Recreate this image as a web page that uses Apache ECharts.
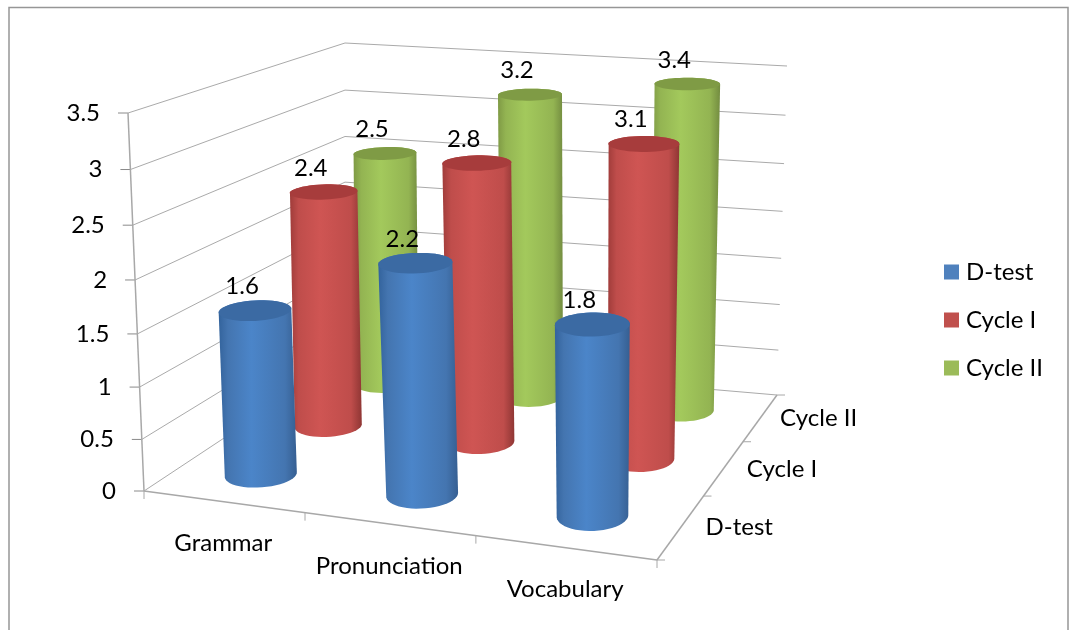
<!DOCTYPE html>
<html><head><meta charset="utf-8">
<style>html,body{margin:0;padding:0;background:#fff}#c{width:1071px;height:630px}</style>
<script src="https://cdn.jsdelivr.net/npm/echarts@6/dist/echarts.min.js"></script>
</head><body><div id="c"></div>
<script>
const categories = ['Grammar','Pronunciation','Vocabulary'];
const seriesNames = ['D-test','Cycle I','Cycle II'];
const dTest = [1.6,2.2,1.8];
const cycleI = [2.4,2.8,3.1];
const cycleII = [2.5,3.2,3.4];
const valueTicks = [0,0.5,1,1.5,2,2.5,3,3.5];
const FONT = 'Lato';
const FS = 24;
const LINE = '#aaaaaa';

// picture-frame of the 3D box (floor and ceiling corners)
const floorQ = [[144,491],[657,560],[777,395],[345,358]];
const ceilQ  = [[128,113],[664,162],[787,66],[345,43]];
function homog(q){
  const [[x0,y0],[x1,y1],[x2,y2],[x3,y3]] = q;
  const dx1=x1-x2,dx2=x3-x2,sx=x0-x1+x2-x3,dy1=y1-y2,dy2=y3-y2,sy=y0-y1+y2-y3;
  const d=dx1*dy2-dx2*dy1, g=(sx*dy2-dx2*sy)/d, h=(dx1*sy-sx*dy1)/d;
  const a=x1-x0+g*x1,b=x3-x0+h*x3,c=x0,e=y1-y0+g*y1,f=y3-y0+h*y3,i=y0;
  return (u,v)=>{const w=g*u+h*v+1;return [(a*u+b*v+c)/w,(e*u+f*v+i)/w];};
}
const hF=homog(floorQ), hC=homog(ceilQ);
const persp=t=>t/(t+(1-t)*1.055);
function P(u,v,t){ // u,v in cells 0..3, t 0..1 along the value axis
  const uw=u+0.022*u*(3-u);
  const a=hF(uw/3,v/3), b=hC(uw/3,v/3), s=persp(t);
  return [a[0]+(b[0]-a[0])*s, a[1]+(b[1]-a[1])*s];
}
function hull(pts){
  const p=pts.slice().sort((a,b)=>a[0]-b[0]||a[1]-b[1]);
  const cr=(o,a,b)=>(a[0]-o[0])*(b[1]-o[1])-(a[1]-o[1])*(b[0]-o[0]);
  const lo=[],up=[];
  for(const q of p){while(lo.length>1&&cr(lo[lo.length-2],lo[lo.length-1],q)<=0)lo.pop();lo.push(q);}
  for(const q of p.slice().reverse()){while(up.length>1&&cr(up[up.length-2],up[up.length-1],q)<=0)up.pop();up.push(q);}
  return lo.slice(0,-1).concat(up.slice(0,-1));
}
const G=echarts.graphic.LinearGradient;
const shades=[
  {edgeL:'#33639c',mid:'#4b85c9',edgeR:'#365f92',top:'#3b6aa3',rim:'#4475b0'},
  {edgeL:'#a03c3a',mid:'#cf5553',edgeR:'#8f3634',top:'#a73c3c',rim:'#bf4d4b'},
  {edgeL:'#7f9a45',mid:'#a3c95c',edgeR:'#738c40',top:'#7f9b45',rim:'#93b452'}
];
const RU=0.205, RV=0.235;
function normOf(api,params,val,cat){
  const c=api.coord([cat,val]), s=params.coordSys;
  return {u:(c[0]-s.x)/s.width*categories.length, t:(s.y+s.height-c[1])/s.height};
}
function cyl(depth){
  return function(params,api){
    const n=normOf(api,params,api.value(1),api.value(0));
    const vc=depth+0.5, low=[], up=[], ru=RU*(1-0.025*n.u);
    for(let i=0;i<48;i++){
      const a=i/48*Math.PI*2, uu=n.u+ru*Math.cos(a), vv=vc+RV*Math.sin(a);
      low.push(P(uu,vv,0)); up.push(P(uu,vv,n.t));
    }
    const sh=shades[depth];
    const tc=P(n.u,vc,n.t);
    return {type:'group',children:[
      {type:'polygon',shape:{points:hull(low.concat(up))},style:{fill:new G(0,0,1,0,[
        {offset:0,color:sh.edgeL},{offset:0.12,color:sh.rim},{offset:0.42,color:sh.mid},{offset:0.85,color:sh.rim},{offset:1,color:sh.edgeR}])}},
      {type:'polygon',shape:{points:up},style:{fill:sh.top}},
      {type:'text',x:tc[0]-13,y:tc[1]-24,style:{text:String(api.value(1)),font:FS+'px '+FONT,fill:'#000',align:'center',verticalAlign:'middle'}}
    ]};
  };
}
function wallItem(params,api){
  const n=normOf(api,params,api.value(1),0), t=n.t;
  const a=P(0,0,t), d=P(0,3,t), c=P(3,3,t);
  return {type:'group',children:[
    {type:'polyline',shape:{points:[a,d,c]},style:{stroke:LINE,lineWidth:1,fill:null}},
    {type:'line',shape:{x1:a[0]-10,y1:a[1],x2:a[0],y2:a[1]},style:{stroke:'#8a8a8a',lineWidth:1}},
    {type:'text',x:a[0]-28,y:a[1],style:{text:String(api.value(1)),font:FS+'px '+FONT,fill:'#000',align:'right',verticalAlign:'middle'}}
  ]};
}
function frameItem(params,api){
  const kids=[];
  const ln=(p,q,w)=>kids.push({type:'line',shape:{x1:p[0],y1:p[1],x2:q[0],y2:q[1]},style:{stroke:'#a8a8a8',lineWidth:w||1.5}});
  ln(P(0,0,0),P(0,0,1)); ln(P(0,0,0),P(3,0,0)); ln(P(3,0,0),P(3,3,0));
  for(let i=0;i<=3;i++){
    const f=P(i,0,0); ln(f,[f[0],f[1]+8],1);
    const r=P(3,i,0); ln(r,[r[0]+8,r[1]],1);
  }
  categories.forEach((c,i)=>{const m=P(i+0.5,0,0);
    kids.push({type:'text',x:m[0],y:m[1]+42,style:{text:c,font:FS+'px '+FONT,fill:'#000',align:'center',verticalAlign:'middle'}});});
  seriesNames.forEach((c,i)=>{const m=P(3,i+0.5,0);
    kids.push({type:'text',x:m[0]+58,y:m[1]+1,style:{text:c,font:FS+'px '+FONT,fill:'#000',align:'center',verticalAlign:'middle'}});});
  return {type:'group',children:kids};
}
const chart=echarts.init(document.getElementById('c'),null,{renderer:'canvas'});
const colors=['#4F81BD','#C0504D','#9BBB59'];
const rows=vals=>vals.map((v,i)=>[i,v]);
chart.setOption({
  animation:false,
  backgroundColor:'#fff',
  grid:{left:100,right:100,top:100,bottom:100},
  xAxis:{type:'category',data:categories,show:false},
  yAxis:{type:'value',min:0,max:3.5,interval:0.5,show:false},
  legend:{orient:'vertical',left:939,top:255,itemWidth:15,itemHeight:15,itemGap:24,icon:'rect',
    data:seriesNames,textStyle:{fontFamily:FONT,fontSize:FS,color:'#000',padding:[0,0,0,2]}},
  graphic:[{type:'rect',shape:{x:9,y:7.5,width:1059,height:660},style:{fill:null,stroke:'#969696',lineWidth:1.5},silent:true,z:0}],
  series:[
    {type:'custom',name:'walls',z:1,silent:true,data:valueTicks.map(v=>[0,v]),renderItem:wallItem,encode:{x:0,y:1}},
    {type:'custom',name:'frame',z:1,silent:true,data:[[0,0]],renderItem:frameItem,encode:{x:0,y:1}},
    {type:'custom',name:seriesNames[0],z:6,data:rows(dTest),renderItem:cyl(0),encode:{x:0,y:1},itemStyle:{color:colors[0]}},
    {type:'custom',name:seriesNames[1],z:5,data:rows(cycleI),renderItem:cyl(1),encode:{x:0,y:1},itemStyle:{color:colors[1]}},
    {type:'custom',name:seriesNames[2],z:4,data:rows(cycleII),renderItem:cyl(2),encode:{x:0,y:1},itemStyle:{color:colors[2]}}
  ]
});
</script></body></html>
